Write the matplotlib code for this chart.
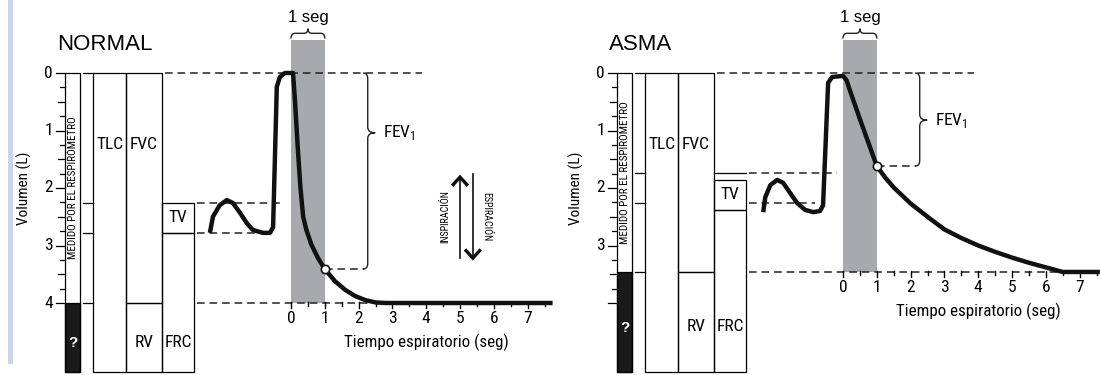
import numpy as np
import matplotlib.pyplot as plt
from matplotlib.path import Path
from matplotlib.patches import PathPatch, Rectangle

NARROW = ['Roboto Condensed', 'Archivo Narrow', 'PT Sans Narrow', 'Liberation Sans Narrow',
          'Liberation Sans', 'DejaVu Sans']
plt.rcParams['font.family'] = NARROW
plt.rcParams['mathtext.fontset'] = 'custom'
plt.rcParams['mathtext.rm'] = 'Roboto Condensed'

# ---- datos (volumen en L desde inspiracion maxima, tiempo en s) ----
titles = ['NORMAL', 'ASMA']
vol_labels_normal = [0, 1, 2, 3, 4]
vol_labels_asma = [0, 1, 2, 3]
time_labels = [0, 1, 2, 3, 4, 5, 6, 7]

normal_tv = [2.26, 2.78]      # TV arriba / abajo (inicio FRC)
normal_rv = 4.0
normal_fev1 = 3.41
normal_tidal_dash = [2.26, 2.78]
normal_t = [-2.40, -2.31, -2.11, -1.90, -1.72, -1.51, -1.31, -1.13, -0.83, -0.62,
            -0.53, -0.42, -0.33, -0.18, 0.06, 0.12, 0.20, 0.28, 0.36, 0.45,
            0.60, 0.80, 1.00, 1.30, 1.60, 1.90, 2.20, 2.50, 2.80, 7.74]
normal_v = [2.78, 2.50, 2.30, 2.21, 2.26, 2.43, 2.61, 2.73, 2.78, 2.78,
            2.68, 0.24, 0.07, 0.00, 0.00, 0.50, 1.30, 2.00, 2.50, 2.72,
            2.98, 3.22, 3.41, 3.62, 3.77, 3.88, 3.95, 3.99, 4.00, 4.00]

asma_tv = [1.86, 2.38]
asma_tv_line = 1.74
asma_rv = 3.46
asma_fev1 = 1.62
asma_tidal_dash = [1.74, 2.26]
asma_t = [-2.36, -2.30, -2.15, -1.95, -1.77, -1.56, -1.36, -1.12, -0.88, -0.68,
          -0.59, -0.44, -0.32, 0.00, 0.10, 0.25, 0.50, 0.75, 1.00, 1.25,
          1.50, 2.00, 2.50, 3.00, 3.50, 4.00, 4.50, 5.00, 5.50, 6.00, 6.50, 7.60]
asma_v = [2.42, 2.16, 1.95, 1.86, 1.91, 2.09, 2.26, 2.38, 2.42, 2.40,
          2.30, 0.17, 0.07, 0.05, 0.12, 0.38, 0.80, 1.21, 1.62, 1.82,
          1.99, 2.27, 2.50, 2.72, 2.87, 3.00, 3.11, 3.21, 3.30, 3.38, 3.46, 3.46]

# ---- layout (en unidades de s / L) ----
BAR = (-6.68, -6.23)
TLC = (-5.85, -4.88)
FVC = (-4.88, -3.82)
FRC = (-3.82, -2.87)
BOTTOM = 5.2
GREY = '#a7a9ac'
LW_BOX = 0.9
DASH = (0, (5, 3.2))

W, H = 1101, 375
PX_S, PX_L, Y0 = 33.8, 57.5, 73
XMIN, XMAX = -8.62, 7.8

fig = plt.figure(figsize=(W / 100, H / 100), dpi=100)


def make_ax(x0_px):
    left = (x0_px + XMIN * PX_S) / W
    width = (XMAX - XMIN) * PX_S / W
    ax = fig.add_axes([left, 0, width, 1])
    ax.set_xlim(XMIN, XMAX)
    ax.set_ylim((H - Y0) / PX_L, -Y0 / PX_L)
    ax.axis('off')
    return ax


def brace_v(ax, x, y0, y1, tip, wt, we, r):
    verts = [(x - we, y0), (x, y0), (x, y0 + r), (x, tip - r), (x, tip), (x + wt, tip),
             (x, tip), (x, tip + r), (x, y1 - r), (x, y1), (x - we, y1)]
    codes = [Path.MOVETO, Path.CURVE3, Path.CURVE3, Path.LINETO, Path.CURVE3, Path.CURVE3,
             Path.CURVE3, Path.CURVE3, Path.LINETO, Path.CURVE3, Path.CURVE3]
    ax.add_patch(PathPatch(Path(verts, codes), fc='none', ec='#222222', lw=1.0))


def brace_h(ax, x0, x1, ye, yl, ytip, r):
    m = (x0 + x1) / 2
    verts = [(x0, ye), (x0, yl), (x0 + r, yl), (m - r, yl), (m, yl), (m, ytip),
             (m, yl), (m + r, yl), (x1 - r, yl), (x1, yl), (x1, ye)]
    codes = [Path.MOVETO, Path.CURVE3, Path.CURVE3, Path.LINETO, Path.CURVE3, Path.CURVE3,
             Path.CURVE3, Path.CURVE3, Path.LINETO, Path.CURVE3, Path.CURVE3]
    ax.add_patch(PathPatch(Path(verts, codes), fc='none', ec='#222222', lw=1.0))


def box(ax, xs, y0, y1):
    ax.add_patch(Rectangle((xs[0], y0), xs[1] - xs[0], y1 - y0, fc='none', ec='k', lw=LW_BOX))


def panel(ax, title, vlabels, tv, tv_line, rv, fev1, tdash, dash_end, t, v, fev_tip, medido_y):
    ax.text(-6.92, -0.49, title, ha='left', va='center', fontsize=16, family='Liberation Sans')
    ax.text(-7.9, 2.0, 'Volumen (L)', rotation=90, ha='center', va='center', fontsize=11)

    # eje de volumen
    for q in np.arange(0, 4.01, 0.25):
        ln = 0.27 if q % 1 == 0 else (0.2 if q % 0.5 == 0 else 0.14)
        ax.plot([BAR[0] - ln, BAR[0]], [q, q], color='k', lw=0.9)
    for q in vlabels:
        ax.text(-7.04, q, str(q), ha='right', va='center', fontsize=12.5)

    # barra del espirometro
    ax.add_patch(Rectangle((BAR[0], rv), BAR[1] - BAR[0], BOTTOM - rv, fc='#1a1a1a', ec='k', lw=LW_BOX))
    box(ax, BAR, 0, BOTTOM)
    ax.text(np.mean(BAR) + 0.02, medido_y, 'MEDIDO POR EL RESPIRÓMETRO', rotation=90,
            ha='center', va='center', fontsize=7.9)
    ax.text(np.mean(BAR), (rv + BOTTOM) / 2 + 0.1, '?', color='white', ha='center', va='center',
            fontsize=11, fontweight='bold', family='Liberation Sans')

    # cajas de volumenes
    box(ax, TLC, 0, BOTTOM)
    box(ax, FVC, 0, rv)
    box(ax, FVC, rv, BOTTOM)
    box(ax, FRC, tv[0], tv[1])
    box(ax, FRC, tv[1], BOTTOM)
    if tv_line is not None:
        ax.plot(FRC, [tv_line, tv_line], color='k', lw=LW_BOX)
    ax.text(np.mean(TLC), 1.25, 'TLC', ha='center', va='center', fontsize=12.5)
    ax.text(np.mean(FVC), 1.25, 'FVC', ha='center', va='center', fontsize=12.5)
    ax.text(np.mean(FVC), (rv + BOTTOM) / 2 + 0.08, 'RV', ha='center', va='center', fontsize=12.5)
    ax.text(np.mean(FRC), (rv + BOTTOM) / 2 + 0.08, 'FRC', ha='center', va='center', fontsize=12.5)
    ax.text(np.mean(FRC), np.mean(tv), 'TV', ha='center', va='center', fontsize=12.5)

    # marcas cortas entre barra y TLC
    for q in [0, tdash[0], tdash[1], rv]:
        ax.plot([-6.16, TLC[0]], [q, q], color='k', lw=LW_BOX)

    # banda de 1 s
    ax.add_patch(Rectangle((0, -0.57), 1, rv + 0.57, fc=GREY, ec='none', zorder=1))
    brace_h(ax, 0, 1, -0.60, -0.69, -0.77, 0.12)
    ax.text(0.5, -0.97, '1 seg', ha='center', va='center', fontsize=12, family='Liberation Sans')

    # lineas discontinuas
    ax.plot([-3.73, 3.87], [0, 0], color='#222222', lw=1.1, ls=DASH, zorder=2)
    ax.plot([-2.78, dash_end[0]], [tdash[0], tdash[0]], color='#222222', lw=1.1, ls=DASH, zorder=2)
    ax.plot([-2.78, dash_end[1]], [tdash[1], tdash[1]], color='#222222', lw=1.1, ls=DASH, zorder=2)
    ax.plot([-2.78, 7.6], [rv, rv], color='#222222', lw=1.1, ls=DASH, zorder=2)
    ax.plot([1.0, 2.15], [fev1, fev1], color='#222222', lw=1.1, ls=DASH, zorder=2)
    brace_v(ax, 2.27, 0, fev1, fev_tip, 0.22, 0.14, 0.1)
    ax.text(2.72, fev_tip, 'FEV$_1$', ha='left', va='center', fontsize=12.5)

    # eje de tiempo
    for s in time_labels:
        ax.plot([s, s], [rv - 0.02, rv + 0.09], color='k', lw=1.0, zorder=2)
        ax.plot([s + 0.5, s + 0.5], [rv - 0.02, rv + 0.06], color='k', lw=1.0, zorder=2)
        ax.text(s, rv + 0.27, str(s), ha='center', va='center', fontsize=12.5)
    ax.text(4.0, rv + 0.69, 'Tiempo espiratorio (seg)', ha='center', va='center', fontsize=12.2)

    # curva volumen-tiempo
    ax.plot(t, v, color='#111111', lw=3.2, solid_joinstyle='round', solid_capstyle='butt', zorder=4)
    ax.plot([1.0], [fev1], 'o', ms=6, mfc='white', mec='#111111', mew=1.2, zorder=5)


ax1 = make_ax(291)
ax2 = make_ax(843)

ax1.axvspan(-8.37, -8.22, ymin=0.03, ymax=1, color='#c9d6ea', lw=0)

panel(ax1, titles[0], vol_labels_normal, normal_tv, None, normal_rv, normal_fev1,
      normal_tidal_dash, [-0.24, -0.6], normal_t, normal_v, 1.04, 2.0)
panel(ax2, titles[1], vol_labels_asma, asma_tv, asma_tv_line, asma_rv, asma_fev1,
      asma_tidal_dash, [-0.18, -0.83], asma_t, asma_v, 0.82, 1.74)

# flechas inspiracion / espiracion
hw, hh = 0.2, 0.13
ax1.plot([5.0, 5.0], [3.22, 1.83], color='#111111', lw=1.2)
ax1.plot([5.0 - hw, 5.0, 5.0 + hw], [1.81 + hh, 1.81, 1.81 + hh], color='#111111', lw=2.4,
         solid_joinstyle='miter')
ax1.plot([5.38, 5.38], [1.76, 3.2], color='#111111', lw=1.2)
ax1.plot([5.38 - hw, 5.38, 5.38 + hw], [3.22 - hh, 3.22, 3.22 - hh], color='#111111', lw=2.4,
         solid_joinstyle='miter')
ax1.text(4.56, 2.49, 'INSPIRACIÓN', rotation=90, ha='center', va='center', fontsize=7.2)
ax1.text(5.77, 2.5, 'ESPIRACIÓN', rotation=-90, ha='center', va='center', fontsize=7.2)

fig.savefig('out.png', dpi=100)
